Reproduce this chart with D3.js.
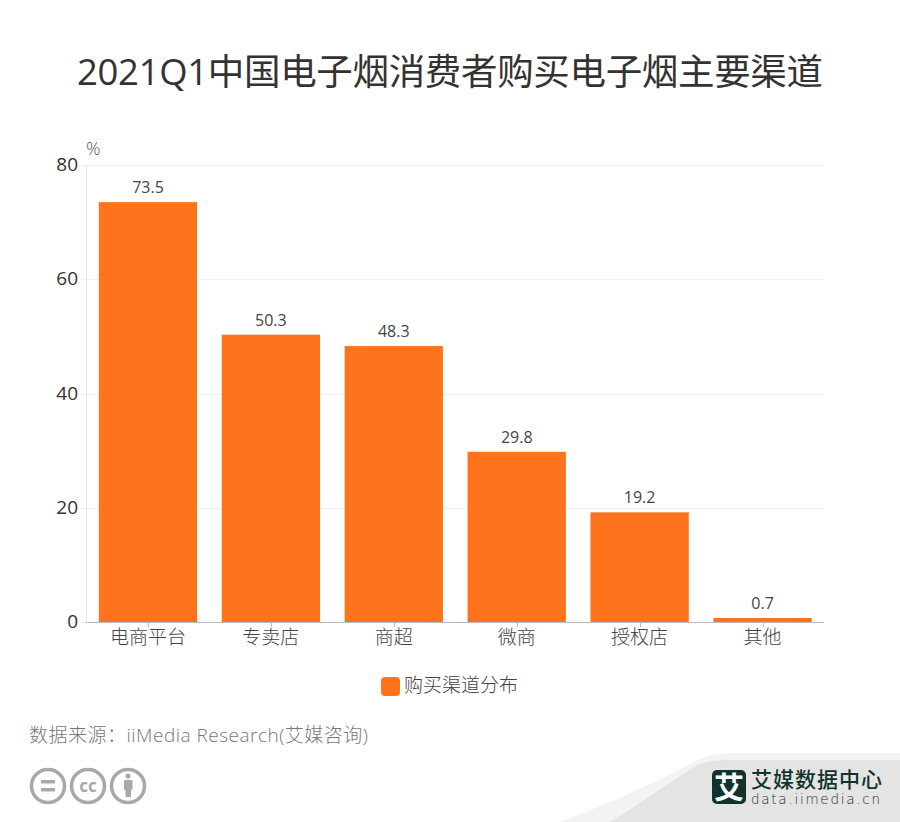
<!DOCTYPE html>
<html><head><meta charset="utf-8">
<script src="https://cdn.jsdelivr.net/npm/d3@7/dist/d3.min.js"></script>
<style>html,body{margin:0;padding:0;background:#fff}svg{display:block}text{font-family:"Open Sans","Noto Sans CJK SC",sans-serif;font-weight:300}</style>
</head><body><svg id="c" width="900" height="822"></svg>
<script>
const categories=["电商平台","专卖店","商超","微商","授权店","其他"];
const values=[73.5,50.3,48.3,29.8,19.2,0.7];
const yTicks=[0,20,40,60,80];
const titleText="2021Q1中国电子烟消费者购买电子烟主要渠道";
const legendText="购买渠道分布";
const sourceText="数据来源：iiMedia Research(艾媒咨询)";
const svg=d3.select("#c");
const x=d3.scaleBand().domain(categories).range([86.5,824]).paddingInner(0.2).paddingOuter(0.1);
const xc=d3.scaleBand().domain(categories).range([86.5,824]);
const y=d3.scaleLinear().domain([0,80]).range([622,165]);
const orange="#ff731c";
svg.append("path").attr("d","M560,822 C620,800 680,770 700,759 Q712,753 735,753 L900,753 L900,822 Z").attr("fill","#f3f3f3");
svg.append("path").attr("d","M640,803 C660,790 685,772 700,764 Q710,760 730,760 L900,760 L900,822 L610,822 Z").attr("fill","#e4e4e4");
svg.append("text").attr("x",450).attr("y",85).attr("text-anchor","middle").attr("font-size",36.5).attr("fill","#333").style("font-weight",400).attr("textLength",746).text(titleText);
svg.append("g").selectAll("line").data(yTicks.slice(1)).join("line")
 .attr("x1",81).attr("x2",824).attr("y1",d=>Math.round(y(d))+.5).attr("y2",d=>Math.round(y(d))+.5).attr("stroke","#f0f0f0");
svg.append("line").attr("x1",86.5).attr("x2",86.5).attr("y1",165).attr("y2",622).attr("stroke","#e8e8e8");
svg.append("line").attr("x1",81).attr("x2",86).attr("y1",622.5).attr("y2",622.5).attr("stroke","#e8e8e8");
svg.append("g").selectAll("text").data(yTicks).join("text")
 .attr("x",78).attr("y",d=>y(d)+6).attr("text-anchor","end").attr("font-size",19).attr("fill","#333").style("font-weight",400).text(d=>d);
svg.append("text").attr("x",86).attr("y",155).attr("font-size",18).attr("fill","#555").text("%");
svg.append("g").selectAll("rect").data(values).join("rect")
 .attr("x",(d,i)=>x(categories[i])).attr("width",x.bandwidth())
 .attr("y",d=>y(d)).attr("height",d=>y(0)-y(d)).attr("fill",orange);
svg.append("g").selectAll("text").data(values).join("text")
 .attr("x",(d,i)=>xc(categories[i])+xc.bandwidth()/2).attr("y",d=>y(d)-9)
 .attr("text-anchor","middle").attr("font-size",16).attr("fill","#444").style("font-weight",400).text(d=>d);
svg.append("line").attr("x1",86).attr("x2",824).attr("y1",622.5).attr("y2",622.5).attr("stroke","#bbb");
svg.append("g").selectAll("line").data(categories).join("line")
 .attr("x1",d=>Math.round(xc(d)+xc.bandwidth()/2)+.5).attr("x2",d=>Math.round(xc(d)+xc.bandwidth()/2)+.5).attr("y1",622).attr("y2",627).attr("stroke","#bbb");
svg.append("g").selectAll("text").data(categories).join("text")
 .attr("x",d=>xc(d)+xc.bandwidth()/2).attr("y",644).attr("text-anchor","middle").attr("font-size",19).attr("fill","#444").text(d=>d);
svg.append("rect").attr("x",381).attr("y",677).attr("width",19).attr("height",19).attr("rx",4).attr("fill",orange);
svg.append("text").attr("x",404).attr("y",692).attr("font-size",19).attr("fill","#444").text(legendText);
svg.append("text").attr("x",29).attr("y",742).attr("font-size",19).attr("fill","#777").attr("textLength",339).text(sourceText);
const g=svg.append("g").attr("fill","none").attr("stroke","#a8a8a8");
[48,88,128].forEach(cx=>g.append("circle").attr("cx",cx).attr("cy",786).attr("r",16.5).attr("stroke-width",3.5));
svg.append("rect").attr("x",41).attr("y",780).attr("width",14).attr("height",3.5).attr("fill","#a8a8a8");
svg.append("rect").attr("x",41).attr("y",788).attr("width",14).attr("height",3.5).attr("fill","#a8a8a8");
svg.append("text").attr("x",88).attr("y",792).attr("text-anchor","middle").attr("font-size",17).style("font-weight",700).attr("fill","#a8a8a8").text("cc");
svg.append("circle").attr("cx",128).attr("cy",776).attr("r",2.5).attr("fill","#a8a8a8");
svg.append("rect").attr("x",124).attr("y",780).attr("width",8.5).attr("height",10).attr("rx",1).attr("fill","#a8a8a8");
svg.append("rect").attr("x",125.5).attr("y",788).attr("width",5.5).attr("height",9).attr("fill","#a8a8a8");
svg.append("rect").attr("x",712).attr("y",770).attr("width",34).attr("height",34).attr("rx",5).attr("fill","#11332c");
svg.append("text").attr("x",729).attr("y",798).attr("text-anchor","middle").attr("font-size",30).style("font-weight",700).attr("fill","#fff").text("艾");
svg.append("text").attr("x",751).attr("y",787).attr("font-size",21).style("font-weight",500).attr("fill","#11332c").attr("textLength",131).text("艾媒数据中心");
svg.append("text").attr("x",751).attr("y",804).style("font-family","DejaVu Sans").attr("font-size",13.5).attr("fill","#11332c").attr("textLength",129).text("data.iimedia.cn");
</script></body></html>
